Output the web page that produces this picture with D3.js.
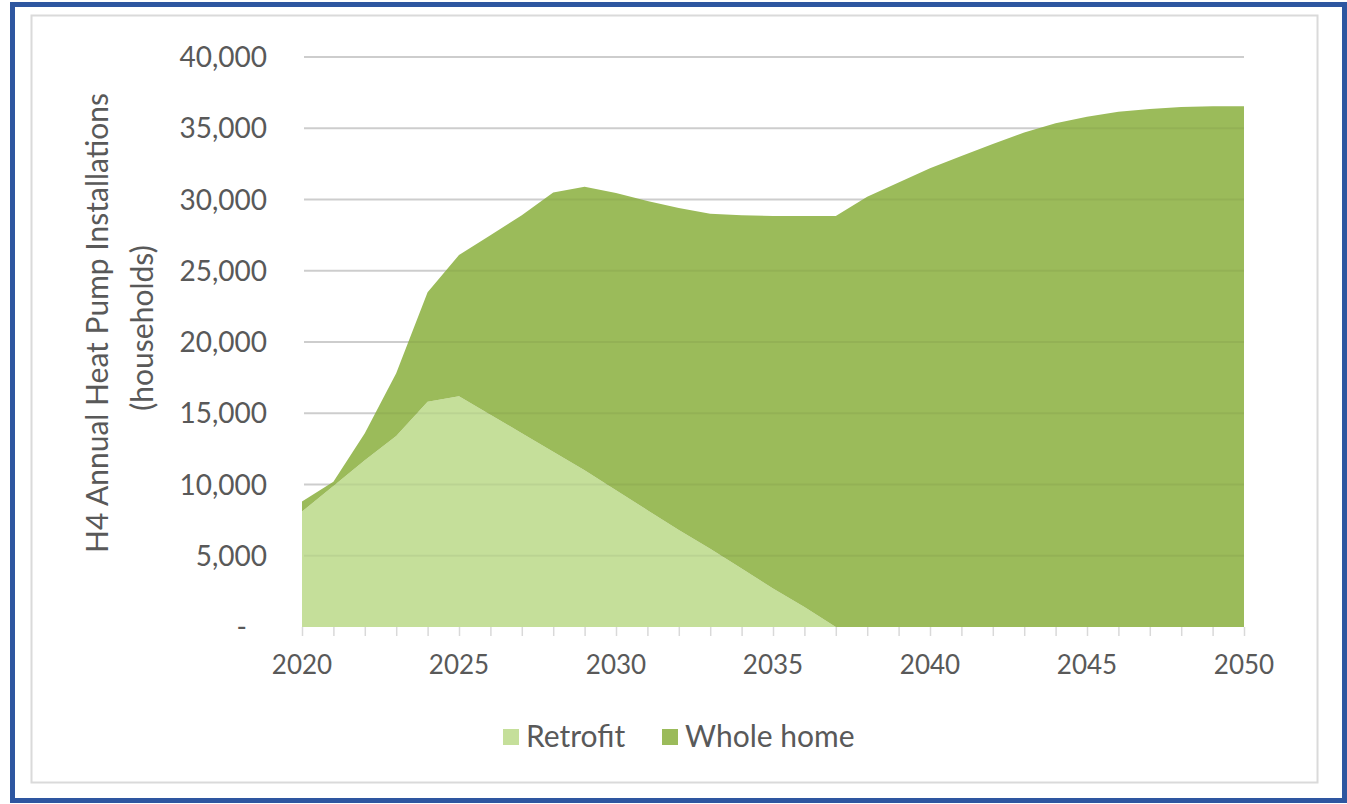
<!DOCTYPE html>
<html>
<head>
<meta charset="utf-8">
<script src="https://cdn.jsdelivr.net/npm/d3@7"></script>
<style>
  html, body { margin: 0; padding: 0; background: #fff; }
  svg { display: block; }
  text { font-family: Lato, "Open Sans", sans-serif; fill: #595959; }
</style>
</head>
<body>
<svg id="chart" width="1347" height="804"></svg>
<script>
const years = d3.range(2020, 2051);
const retrofit = [8100, 9900, 11700, 13400, 15800, 16200, 14900, 13600, 12300, 11000,
  9600, 8200, 6800, 5500, 4100, 2700, 1400, 0, 0, 0,
  0, 0, 0, 0, 0, 0, 0, 0, 0, 0, 0];
const wholeHome = [700, 300, 1900, 4400, 7700, 9900, 12600, 15300, 18200, 19900,
  20850, 21700, 22600, 23500, 24800, 26150, 27450, 28850, 30200, 31200,
  32200, 33050, 33900, 34700, 35350, 35800, 36150, 36350, 36500, 36550, 36550];
const yTicks = [0, 5000, 10000, 15000, 20000, 25000, 30000, 35000, 40000];
const xTickLabels = [2020, 2025, 2030, 2035, 2040, 2045, 2050];
const seriesNames = ["Retrofit", "Whole home"];
const colors = ["#c5df9a", "#9bbb5a"];

const svg = d3.select("#chart");

// outer frames
svg.append("rect").attr("x", 12.5).attr("y", 4.5).attr("width", 1332).attr("height", 796)
  .attr("fill", "#fff").attr("stroke", "#2e56a0").attr("stroke-width", 5);
svg.append("rect").attr("x", 31.5).attr("y", 15.5).attr("width", 1286).attr("height", 767)
  .attr("fill", "#fff").attr("stroke", "#dadada").attr("stroke-width", 2);

const x = d3.scaleLinear().domain([2020, 2050]).range([302, 1244]);
const y = d3.scaleLinear().domain([0, 40000]).range([627, 57]);

// gridlines (under)
svg.append("g").selectAll("line").data(yTicks.filter(d => d > 0)).join("line")
  .attr("x1", 304).attr("x2", x(2050))
  .attr("y1", d => y(d)).attr("y2", d => y(d))
  .attr("stroke", "#d9d9d9").attr("stroke-width", 2);

// stacked data
const table = years.map((yr, i) => ({ year: yr, "Retrofit": retrofit[i], "Whole home": wholeHome[i] }));
const stack = d3.stack().keys(seriesNames)(table);
const area = d3.area()
  .x(d => x(d.data.year))
  .y0(d => y(d[0]))
  .y1(d => y(d[1]));

svg.append("g").selectAll("path").data(stack).join("path")
  .attr("d", area)
  .attr("fill", (d, i) => colors[i]);

// gridlines faintly over the areas
svg.append("g").selectAll("line").data(yTicks.filter(d => d > 0)).join("line")
  .attr("x1", 304).attr("x2", x(2050))
  .attr("y1", d => y(d)).attr("y2", d => y(d))
  .attr("stroke", "#000").attr("stroke-opacity", 0.05).attr("stroke-width", 2);

// x axis minor ticks
const xAxis = d3.axisBottom(x).tickValues(years).tickSize(9).tickFormat("");
const xg = svg.append("g").attr("transform", `translate(0,${y(0)})`).call(xAxis);
xg.select(".domain").remove();
xg.selectAll(".tick line").attr("stroke", "#d9d9d9").attr("stroke-width", 1.5);

// x labels
svg.append("g").selectAll("text").data(xTickLabels).join("text")
  .attr("x", d => x(d)).attr("y", 674)
  .attr("text-anchor", "middle")
  .attr("font-size", 26)
  .text(d => d);

// y labels
const fmt = d3.format(",");
svg.append("g").selectAll("text").data(yTicks).join("text")
  .attr("x", d => d === 0 ? 247 : 267)
  .attr("y", d => y(d) + 10)
  .attr("text-anchor", "end")
  .attr("font-size", 28)
  .text(d => d === 0 ? "-" : fmt(d));

// y axis title
svg.append("text")
  .attr("transform", "translate(108,323) rotate(-90)")
  .attr("text-anchor", "middle").attr("font-size", 30)
  .text("H4 Annual Heat Pump Installations");
svg.append("text")
  .attr("transform", "translate(153,328) rotate(-90)")
  .attr("text-anchor", "middle").attr("font-size", 30)
  .text("(households)");

// legend
const legend = svg.append("g");
const legX = [503, 662];
seriesNames.forEach((name, i) => {
  legend.append("rect").attr("x", legX[i]).attr("y", 729).attr("width", 16).attr("height", 16)
    .attr("fill", colors[i]);
  legend.append("text").attr("x", legX[i] + 23).attr("y", 747)
    .attr("font-size", 30).text(name);
});
</script>
</body>
</html>
